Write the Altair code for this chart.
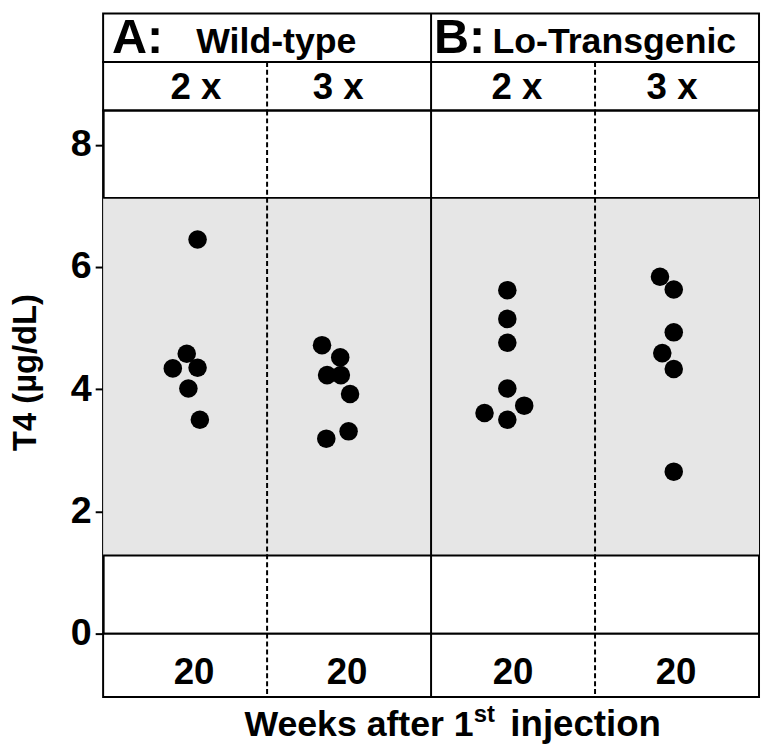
import altair as alt
import pandas as pd

FONT = "Liberation Sans"

# ---------------- data ----------------
group_names = ["Wild-type 2 x", "Wild-type 3 x", "Lo-Transgenic 2 x", "Lo-Transgenic 3 x"]
wt_2x = [6.45, 4.58, 4.34, 4.35, 4.01, 3.50]
wt_3x = [4.72, 4.52, 4.23, 4.23, 3.92, 3.19, 3.31]
lo_2x = [5.62, 5.15, 4.76, 4.01, 3.73, 3.61, 3.50]
lo_3x = [5.84, 5.63, 4.93, 4.59, 4.33, 2.65]
# horizontal scatter of each dot inside its column (fraction of a column)
wt_2x_spread = [0.076, 0.010, -0.075, 0.076, 0.020, 0.090]
wt_3x_spread = [-0.165, -0.054, -0.134, -0.050, 0.006, -0.139, -0.003]
lo_2x_spread = [-0.035, -0.035, -0.035, -0.035, 0.068, -0.174, -0.035]
lo_3x_spread = [-0.104, -0.020, -0.020, -0.090, -0.020, -0.020]

panel_letters = ["A:", "B:"]
panel_names = ["Wild-type", "Lo-Transgenic"]
dose_labels = ["2 x", "3 x", "2 x", "3 x"]
week_labels = ["20", "20", "20", "20"]
normal_range = [1.28, 7.13]
y_ticks = [0, 2, 4, 6, 8]
y_max = 8.56

# ---------------- layout constants (pixels) ----------------
W = 662
COL_PX = W / 4.0
letter_dx_px = [9, 3]
name_dx_px = [94, 62]
dose_dx_px = [11, -11, 4, -5]
week_dx_px = [9, -2, 0, -1]

# ---------------- tables ----------------
rows = []
for gi, (vals, spread) in enumerate([(wt_2x, wt_2x_spread), (wt_3x, wt_3x_spread),
                                      (lo_2x, lo_2x_spread), (lo_3x, lo_3x_spread)]):
    for v, s in zip(vals, spread):
        rows.append({"group": group_names[gi], "col": gi, "spread": s, "t4": v})
points_df = pd.DataFrame(rows)

cols_df = pd.DataFrame({"col": list(range(4)), "dose": dose_labels, "week": week_labels})
cols_df["dose_x"] = cols_df["col"] + 0.5 + pd.Series(dose_dx_px) / COL_PX
cols_df["week_x"] = cols_df["col"] + 0.5 + pd.Series(week_dx_px) / COL_PX
dividers_df = pd.DataFrame({"pos": [1, 2, 3], "kind": ["dash", "solid", "dash"]})
range_df = pd.DataFrame({"lo": [normal_range[0]], "hi": [normal_range[1]]})
edges_df = pd.DataFrame({"edge": normal_range})
header_df = pd.DataFrame({"letter": panel_letters, "name": panel_names,
                          "panel": [0, 2]})
header_df["lx"] = header_df["panel"] + pd.Series(letter_dx_px) / COL_PX
header_df["nx"] = header_df["panel"] + pd.Series(name_dx_px) / COL_PX

xs = alt.Scale(domain=[0, 4], nice=False, zero=False)


def X(field):
    return alt.X(field, type="quantitative", scale=xs, axis=None)


def dividers(which=("dash", "solid")):
    layers = []
    if "solid" in which:
        layers.append(
            alt.Chart(dividers_df).transform_filter("datum.kind == 'solid'")
            .mark_rule(color="black", strokeWidth=2).encode(x=X("pos"))
        )
    if "dash" in which:
        layers.append(
            alt.Chart(dividers_df).transform_filter("datum.kind == 'dash'")
            .mark_rule(color="black", strokeWidth=2, strokeDash=[5, 3]).encode(x=X("pos"))
        )
    return layers


text_base = dict(font=FONT, fontWeight="bold", color="black")

# ---- row 1: panel titles (baseline "top" keeps the text box inside the row) ----
letters = alt.Chart(header_df).mark_text(align="left", baseline="top",
                                         fontSize=49, **text_base).encode(
    x=X("lx"), y=alt.value(1), text="letter:N")
names = alt.Chart(header_df).mark_text(align="left", baseline="top",
                                       fontSize=36, **text_base).encode(
    x=X("nx"), y=alt.value(12), text="name:N")
row1 = alt.layer(letters, names, *dividers(("solid",))).properties(width=W, height=49)

# ---- row 2: dose labels ----
dose = alt.Chart(cols_df).mark_text(
    align="center", baseline="top", fontSize=37, **text_base).encode(
    x=X("dose_x"), y=alt.value(8), text="dose:N")
row2 = alt.layer(dose, *dividers()).properties(width=W, height=49)

# ---- main plot ----
ys = alt.Scale(domain=[0, y_max], nice=False, zero=True)
band = alt.Chart(range_df).mark_rect(color="#e6e6e6").encode(
    x=alt.value(0), x2=alt.value(W),
    y=alt.Y("lo:Q", scale=ys), y2="hi:Q")
edges = alt.Chart(edges_df).mark_rule(color="black", strokeWidth=2).encode(
    y=alt.Y("edge:Q", scale=ys))
dots = alt.Chart(points_df).transform_calculate(
    xpos="datum.col + 0.5 + datum.spread").mark_circle(
    size=350, color="black", opacity=1).encode(
    x=X("xpos"),
    y=alt.Y("t4:Q", scale=ys,
            axis=alt.Axis(values=y_ticks, format="d", title="T4 (µg/dL)", grid=False,
                          titleFont=FONT, titleFontSize=33, titleFontWeight="bold",
                          titleColor="black", titlePadding=28,
                          labelFont=FONT, labelFontSize=38, labelFontWeight="bold",
                          labelColor="black", labelPadding=4,
                          tickSize=8, tickWidth=2, tickColor="black",
                          domainColor="black", domainWidth=2)),
    tooltip=["group:N", "t4:Q"])
main = alt.layer(band, edges, *dividers(), dots).properties(width=W, height=528)

# ---- footer: weeks ----
weeks = alt.Chart(cols_df).mark_text(
    align="center", baseline="top", fontSize=37, **text_base).encode(
    x=X("week_x"), y=alt.value(22), text="week:N")
footer = alt.layer(weeks, *dividers()).properties(width=W, height=64)

# ---- x title with superscript ----
title_df = pd.DataFrame({"part": ["Weeks after 1", "st", "injection"]})
t_anchor = (478 - 104) / COL_PX
title_df["tx"] = [t_anchor, t_anchor, t_anchor + 37 / COL_PX]
t1 = alt.Chart(title_df).transform_filter("datum.part == 'Weeks after 1'").mark_text(
    align="right", baseline="top", fontSize=36, **text_base).encode(
    x=X("tx"), y=alt.value(11), text="part:N")
t2 = alt.Chart(title_df).transform_filter("datum.part == 'st'").mark_text(
    align="left", baseline="top", fontSize=24, **text_base).encode(
    x=X("tx"), y=alt.value(6), text="part:N")
t3 = alt.Chart(title_df).transform_filter("datum.part == 'injection'").mark_text(
    align="left", baseline="top", fontSize=37, **text_base).encode(
    x=X("tx"), y=alt.value(10), text="part:N")
title_row = alt.layer(t1, t2, t3).properties(
    width=W, height=47, view=alt.ViewBackground(stroke="transparent"))

chart = alt.vconcat(row1, row2, main, footer, title_row, spacing=0, bounds="flush").properties(
    padding={"left": 0, "top": 0, "right": 0, "bottom": 0}, background="white"
).configure_view(stroke="black", strokeWidth=2).configure_concat(spacing=0)

chart.save("out.html", embed_options={"renderer": "svg", "actions": False})
